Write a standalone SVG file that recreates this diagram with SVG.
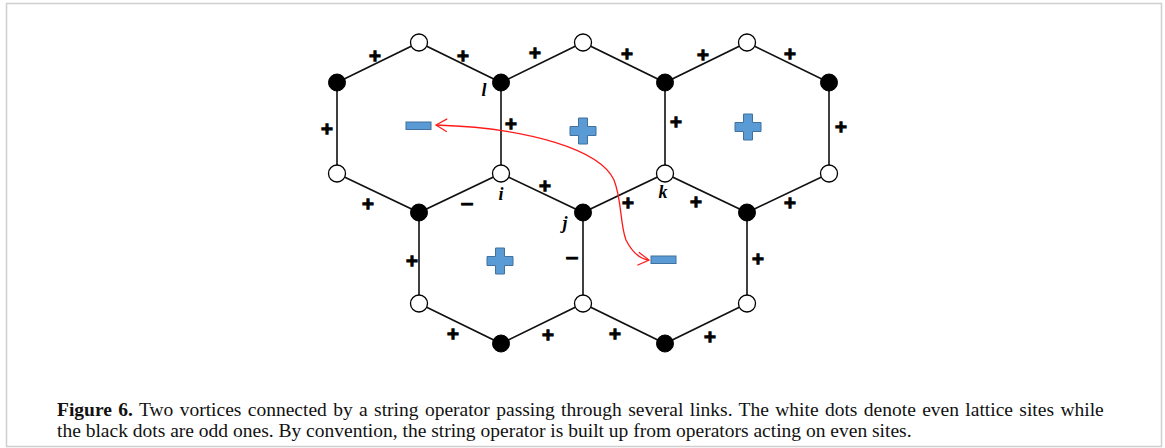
<svg xmlns="http://www.w3.org/2000/svg" width="1165" height="448" viewBox="0 0 1165 448">
<style>
.e{stroke:#111;stroke-width:1.6;fill:none}
.w{fill:#fff;stroke:#000;stroke-width:1.3}
.b{fill:#000;stroke:#000;stroke-width:1}
.p{font-family:"DejaVu Sans",sans-serif;font-weight:bold;font-size:16px;fill:#000;stroke:#000;stroke-width:1.3;text-anchor:middle}
.m{font-family:"DejaVu Sans",sans-serif;font-weight:bold;font-size:18px;fill:#000;stroke:#000;stroke-width:0.8;text-anchor:middle}
.n{font-family:"Liberation Serif",serif;font-weight:bold;font-style:italic;font-size:18px;fill:#000;text-anchor:middle}
.v{fill:#5b9bd5;stroke:#41719c;stroke-width:1}
.cap{font-family:"Liberation Serif",serif;font-size:19.5px;fill:#111}
</style>
<defs>
<marker id="ah" markerUnits="userSpaceOnUse" markerWidth="16" markerHeight="16" refX="0" refY="0" viewBox="-13 -8 16 16" orient="auto-start-reverse">
<path d="M-11,-6.5 L0,0 L-11,6.5" fill="none" stroke="#ff1a1a" stroke-width="1.2"/>
</marker>
<path id="vplus" d="M-4.5,-13 h9 v8.5 h8.5 v9 h-8.5 v8.5 h-9 v-8.5 h-8.5 v-9 h8.5 z"/>
</defs>
<rect x="6.5" y="3.5" width="1155" height="443" fill="#fff" stroke="#cfcfcf" stroke-width="1.5"/>
<g id="connectors">
<path class="e" d="M337,82.5 L419,42.5 L501,82.5 L583,42.5 L665,82.5 L747,42.5 L829,82.5"/>
<path class="e" d="M337,82.5 V173.5 M501,82.5 V173.5 M665,82.5 V173.5 M829,82.5 V173.5"/>
<path class="e" d="M337,173.5 L419,212.5 L501,173.5 L583,212.5 L665,173.5 L747,212.5 L829,173.5"/>
<path class="e" d="M419,212.5 V303.5 M583,212.5 V303.5 M747,212.5 V303.5"/>
<path class="e" d="M419,303.5 L501,343.5 L583,303.5 L665,343.5 L747,303.5"/>
<path id="string" d="M436,125 C530,128 600,150 614,180 C622,200 620,225 626,240 C632,252 640,259 649,260" fill="none" stroke="#ff1a1a" stroke-width="1.3" marker-start="url(#ah)" marker-end="url(#ah)"/>
</g>
<g id="edge-labels">
<text class="p" x="375" y="61">+</text>
<text class="p" x="463" y="61">+</text>
<text class="p" x="535" y="58">+</text>
<text class="p" x="627" y="59">+</text>
<text class="p" x="703" y="60">+</text>
<text class="p" x="790" y="59">+</text>
<text class="p" x="327" y="134">+</text>
<text class="p" x="511" y="129">+</text>
<text class="p" x="676" y="127">+</text>
<text class="p" x="841" y="132">+</text>
<text class="p" x="368" y="209">+</text>
<text class="p" x="545" y="191">+</text>
<text class="p" x="628" y="208">+</text>
<text class="p" x="696" y="207">+</text>
<text class="p" x="790" y="208">+</text>
<text class="p" x="412" y="266">+</text>
<text class="p" x="758" y="264">+</text>
<text class="p" x="453" y="339">+</text>
<text class="p" x="548" y="340">+</text>
<text class="p" x="615" y="339">+</text>
<text class="p" x="710" y="342">+</text>
<text class="m" x="467" y="209.5">−</text>
<text class="m" x="572" y="263.5">−</text>
</g>
<g id="vortices">
<rect class="v" x="406" y="122" width="25" height="7.5"/>
<rect class="v" x="651" y="256" width="25" height="7.5"/>
<use href="#vplus" class="v" x="583" y="131"/>
<use href="#vplus" class="v" x="748" y="127"/>
<use href="#vplus" class="v" x="500" y="261"/>
</g>
<g id="nodes">
<g id="n-even-1"><circle class="w" cx="419" cy="42.5" r="8.5"/></g>
<g id="n-even-2"><circle class="w" cx="583" cy="42.5" r="8.5"/></g>
<g id="n-even-3"><circle class="w" cx="747" cy="42.5" r="8.5"/></g>
<g id="n-odd-1"><circle class="b" cx="337" cy="82.5" r="8.5"/></g>
<g id="n-l"><circle class="b" cx="501" cy="82.5" r="8.5"/><text class="n" x="484" y="96">l</text></g>
<g id="n-odd-2"><circle class="b" cx="665" cy="82.5" r="8.5"/></g>
<g id="n-odd-3"><circle class="b" cx="829" cy="82.5" r="8.5"/></g>
<g id="n-even-4"><circle class="w" cx="337" cy="173.5" r="8.5"/></g>
<g id="n-i"><circle class="w" cx="501" cy="173.5" r="8.5"/><text class="n" x="501" y="200">i</text></g>
<g id="n-k"><circle class="w" cx="665" cy="173.5" r="8.5"/><text class="n" x="663" y="198">k</text></g>
<g id="n-even-5"><circle class="w" cx="829" cy="173.5" r="8.5"/></g>
<g id="n-odd-4"><circle class="b" cx="419" cy="212.5" r="8.5"/></g>
<g id="n-j"><circle class="b" cx="583" cy="212.5" r="8.5"/><text class="n" x="565" y="229">j</text></g>
<g id="n-odd-5"><circle class="b" cx="747" cy="212.5" r="8.5"/></g>
<g id="n-even-6"><circle class="w" cx="419" cy="303.5" r="8.5"/></g>
<g id="n-even-7"><circle class="w" cx="583" cy="303.5" r="8.5"/></g>
<g id="n-even-8"><circle class="w" cx="747" cy="303.5" r="8.5"/></g>
<g id="n-odd-6"><circle class="b" cx="501" cy="343.5" r="8.5"/></g>
<g id="n-odd-7"><circle class="b" cx="665" cy="343.5" r="8.5"/></g>
</g>
<g id="caption">
<text class="cap" x="57" y="416" word-spacing="1.5"><tspan font-weight="bold">Figure 6.</tspan> Two vortices connected by a string operator passing through several links. The white dots denote even lattice sites while</text>
<text class="cap" x="57" y="437">the black dots are odd ones. By convention, the string operator is built up from operators acting on even sites.</text>
</g>
</svg>
